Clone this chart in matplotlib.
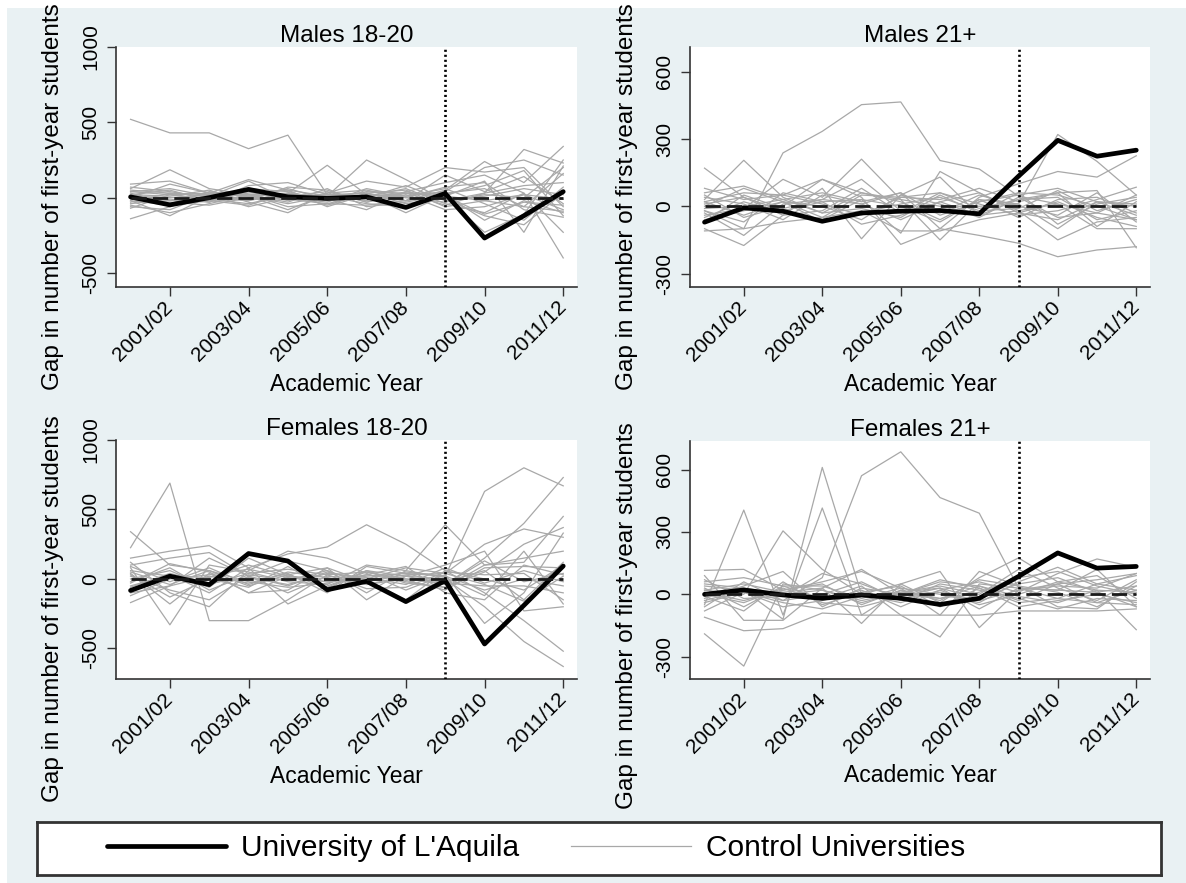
"""Gap in first-year enrolments: L'Aquila vs control universities (4 panels)."""

import matplotlib
matplotlib.use("Agg")
import matplotlib.pyplot as plt
from matplotlib.patches import Rectangle

plt.rcParams['font.family'] = ['Liberation Sans', 'DejaVu Sans']
plt.rcParams['axes.unicode_minus'] = False

# Academic years 2000/01 .. 2011/12
years = ["2000/01", "2001/02", "2002/03", "2003/04", "2004/05", "2005/06",
         "2006/07", "2007/08", "2008/09", "2009/10", "2010/11", "2011/12"]
tick_years = ["2001/02", "2003/04", "2005/06", "2007/08", "2009/10", "2011/12"]
quake_year = "2008/09"

panel_titles = ["Males 18-20", "Males 21+", "Females 18-20", "Females 21+"]

aquila_m1820 = [5, -48, 0, 55, 5, -5, 5, -65, 28, -268, -120, 40]
aquila_m21 = [-71, -7, -22, -67, -30, -22, -19, -34, 134, 294, 223, 250]
aquila_f1820 = [-83, 20, -41, 183, 129, -78, -17, -163, -12, -468, -190, 93]
aquila_f21 = [0, 21, -3, -19, -3, -19, -49, -19, 86, 199, 126, 134]

controls_m1820 = [
    [520, 430, 430, 325, 415, 20, 10, 30, 10, -20, -60, -90],
    [60, 185, 60, 20, 30, 215, 20, 10, 40, 200, 250, 150],
    [40, 20, 30, 120, 50, 10, 250, 120, -20, 30, 320, 230],
    [-140, -60, 20, 10, -40, 10, 30, -20, 50, 240, 100, 340],
    [90, 110, 30, 40, -20, 30, 110, 70, 200, 170, 200, -60],
    [-50, -100, -40, 20, -60, -40, -50, -20, 10, 110, -230, 210],
    [20, 50, -20, -50, 30, -20, 10, 60, -40, -100, 30, -400],
    [-20, -120, 10, -20, 70, 50, -30, 40, 100, 150, 30, -230],
    [50, 30, -30, 80, 100, 20, 30, -40, 0, -230, -110, 250],
    [30, -40, 40, 10, -80, 20, -20, 30, -50, 30, 80, 100],
    [-30, 30, 20, -60, 0, -30, 60, 10, 60, -40, -150, 70],
    [10, -20, -10, 30, 50, -60, 20, -100, 20, 80, 180, -120],
    [-60, -80, 20, 40, 10, 40, -30, 20, -80, -60, 20, -80],
    [70, 40, 0, -20, 30, 0, 40, 30, 30, 60, -60, 160],
    [0, 90, 30, 20, -30, 60, -60, -30, 20, -150, -20, -100],
    [-40, -10, -30, 60, 40, -20, 0, 80, -20, 10, 60, 20],
    [20, 10, 50, -30, -100, 30, 50, 0, 70, 100, -80, -130],
    [-20, -50, -20, 10, 20, 10, -40, -60, 10, -110, -30, -50],
    [40, 60, 10, 110, -10, -40, 20, 0, -30, 20, 0, 200],
    [-10, -30, -50, 0, 60, -10, -80, 40, -10, -120, -180, 30],
    [10, 0, 20, -10, 0, 20, 10, -20, 150, 40, 140, -40],
    [-70, 20, -10, -40, 20, -50, 30, 50, -60, -20, 20, -10],
]

controls_m21 = [
    [-20, -100, 238, 334, 453, 465, 204, 166, 45, 10, -30, -60],
    [30, 205, 40, -30, 60, 20, -60, 30, 10, 320, 200, 50],
    [170, 40, -20, 20, 30, -120, 155, 60, -30, -60, 20, -40],
    [-40, -10, 120, 40, 210, 30, -150, 20, 50, 80, 20, 10],
    [20, 60, 50, 120, 40, -170, -100, 40, 100, 155, 130, 225],
    [-100, -175, -40, 80, -145, 50, 130, -40, -20, -150, -70, -50],
    [60, 90, 30, 60, 20, 60, -100, -130, -165, -225, -195, -180],
    [-60, -20, 20, -50, 50, 40, 30, 80, 20, 60, 70, -185],
    [10, 40, -40, -20, 80, -30, 60, 10, -40, -20, 30, 85],
    [-20, -70, 60, 20, -80, -40, 20, -40, 30, 40, -60, -20],
    [40, 10, -60, 50, 10, 60, -40, 20, 60, -80, 10, 40],
    [-110, -100, -70, -50, -20, -110, -110, -60, -30, 20, -50, -90],
    [0, 80, 20, -70, -30, 10, 40, -20, -10, 70, -20, 30],
    [-30, -130, 10, 30, 120, -20, -30, 50, 0, -40, 60, -70],
    [80, 30, 50, 10, -40, 40, 60, -10, 30, 60, -90, 20],
    [-50, 20, -30, -60, 30, 0, -70, 30, -50, 30, 40, -30],
    [20, -40, 20, 0, -60, 50, 10, -50, 40, -50, -30, 50],
    [-70, 50, -10, 30, 10, -60, 20, 60, -20, 10, -100, -100],
    [50, -50, 0, 120, 60, 30, 0, 0, 10, -100, 20, 0],
    [-10, 0, 30, -30, -10, -50, 50, -30, 60, 50, 0, -60],
]

controls_f1820 = [
    [225, 690, -300, -300, -150, 30, 50, 0, -40, 150, 400, 730],
    [340, 100, 60, -50, 30, 80, -20, 50, 20, 630, 800, 670],
    [150, 200, 240, 80, 180, 230, 390, 250, 60, -100, -300, -520],
    [80, -330, 100, 50, -20, -40, 100, 60, 390, 100, 120, 450],
    [-170, -50, 150, 20, 130, 60, -40, 20, 0, -200, -450, -630],
    [100, 150, 190, 20, -100, 20, 0, 80, 40, 250, 360, 300],
    [120, -100, -200, 60, 200, 150, 40, -80, 30, -320, -100, 330],
    [-50, 30, -100, 80, -180, -50, 50, -20, -60, 50, 250, 370],
    [40, -180, 40, -100, -80, 80, -150, 20, 100, 200, -230, -200],
    [0, 60, -60, 150, 30, -60, 60, -30, -60, 100, 150, 200],
    [-100, -50, 20, -30, 40, -100, 90, 40, -30, -50, -50, -100],
    [60, 20, -40, 40, 70, 30, -70, -60, 50, 30, 40, -150],
    [-30, 110, 50, -100, 20, -20, 30, 90, -100, -150, 100, 30],
    [20, -80, -150, 20, -50, 50, -10, -150, 60, 0, -80, 100],
    [-120, 0, 30, 70, 10, -20, 20, 40, 20, -80, 0, -50],
    [90, -20, 80, -40, 50, 10, -40, 0, -20, 60, -150, 120],
    [-60, 40, -30, 10, -40, 40, 10, -40, 80, -30, 60, -20],
    [30, -130, 0, -60, 90, -70, 60, 20, -40, 130, -20, 40],
    [-20, 80, -80, 30, -10, 60, -100, 60, 10, -120, 200, -180],
    [50, -40, 60, -20, -60, -30, 30, -10, -80, 80, 90, 80],
    [-80, 20, 10, 100, 20, 0, -20, 30, 40, -40, -160, 20],
]

controls_f21 = [
    [40, 20, -30, 80, 570, 685, 465, 390, 30, 20, 10, 40],
    [-30, 20, -120, 610, 0, -40, 20, 60, 10, 100, 170, 130],
    [-50, 405, -100, 415, -100, 20, -20, 40, -30, 50, -40, 20],
    [20, 0, 305, 120, 0, 50, -40, 80, 175, 60, 20, -170],
    [-190, -345, 50, 20, -40, 10, 30, -20, 50, 80, 10, -60],
    [115, 120, 20, 60, 110, 30, -100, 110, 40, -60, -70, 60],
    [-110, -175, -165, -90, -100, -100, -100, -100, -80, -80, -80, -70],
    [90, -125, -125, 30, -140, 50, 110, -160, 20, 40, 30, 100],
    [60, 80, 40, -20, 40, -100, -205, 50, 30, 20, 120, -60],
    [-20, 40, 110, -60, 30, 0, 70, 30, -40, -20, 50, 20],
    [30, -60, 40, 40, -20, 30, 0, -40, 60, 130, 50, 90],
    [-60, 60, -30, 0, 60, -30, 50, 20, -20, -70, -20, -30],
    [10, -30, 20, 50, -50, 20, -30, 70, 40, 10, -60, 40],
    [-40, 10, -60, -30, 20, -60, 20, -50, 0, 60, 90, -20],
    [50, 30, 0, 20, -30, 10, 40, 0, 120, 30, -30, 70],
    [-10, -80, 60, -50, 10, 40, -60, 30, -60, -30, 0, -40],
    [70, -20, -10, 100, 50, -20, 10, -30, 20, 50, 70, 100],
    [-80, 10, -40, -70, -10, 0, 60, 40, -10, -40, 20, 10],
    [20, 50, 10, 30, 120, 0, -20, 10, 80, 110, 40, 0],
    [0, -40, 30, -40, -60, -10, 30, -70, 30, -20, -40, -50],
]

aquila_series = [aquila_m1820, aquila_m21, aquila_f1820, aquila_f21]
control_series = [controls_m1820, controls_m21, controls_f1820, controls_f21]
y_ticks = [[-500, 0, 500, 1000], [-300, 0, 300, 600],
           [-500, 0, 500, 1000], [-300, 0, 300, 600]]
y_limits = [(-593, 1000), (-360, 710), (-720, 1000), (-407, 737)]

W, H = 1186, 883
BG = '#E9F1F3'
GRAY = '#A8A8A8'

# axes boxes in pixels: left, top, right, bottom
boxes = [(116, 47, 577, 287), (690, 47, 1150, 287),
         (116, 440, 577, 679), (690, 441, 1150, 679)]
ylabel_y = [0.375, 0.377, 0.295, 0.265]

fig = plt.figure(figsize=(W / 100, H / 100), dpi=100)
fig.patch.set_facecolor('white')
fig.patches.append(Rectangle((7 / W, 0), 1, 1 - 8 / H, transform=fig.transFigure,
                             facecolor=BG, edgecolor='none', zorder=-10))

x = list(range(len(years)))
tick_pos = [years.index(t) for t in tick_years]
quake_x = years.index(quake_year)

handles = None
for k in range(4):
    l, t, r, b = boxes[k]
    ax = fig.add_axes([l / W, 1 - b / H, (r - l) / W, (b - t) / H])
    ax.set_facecolor('white')

    for ctrl in control_series[k]:
        gl, = ax.plot(x, ctrl, color=GRAY, lw=0.9, zorder=2)
    bl, = ax.plot(x, aquila_series[k], color='black', lw=3.4, zorder=3,
                  solid_joinstyle='round', solid_capstyle='round')
    ax.plot(x, [0] * len(x), color='#1a1a1a', lw=2.0, ls=(0, (5.5, 2.2)), zorder=4)
    ax.axvline(quake_x, color='black', lw=1.9, ls=(0, (0.8, 1.1)), zorder=5)
    handles = (bl, gl)

    ax.set_xlim(-0.37, 11.35)
    ax.set_ylim(*y_limits[k])
    ax.set_yticks(y_ticks[k])
    ax.set_xticks(tick_pos)
    ax.set_xticklabels(tick_years, rotation=45, ha='right', va='center',
                       rotation_mode='anchor')
    ax.tick_params(axis='both', direction='out', length=6.5, width=1,
                   labelsize=15, color='#333333')
    ax.tick_params(axis='x', pad=6)
    ax.tick_params(axis='y', labelrotation=90, pad=5)
    for lab in ax.get_yticklabels():
        lab.set_va('center')

    for s in ('top', 'right'):
        ax.spines[s].set_visible(False)
    for s in ('left', 'bottom'):
        ax.spines[s].set_linewidth(1.2)
        ax.spines[s].set_color('#333333')

    ax.set_title(panel_titles[k], fontsize=17.5, pad=2.5)
    ax.set_xlabel("Academic Year", fontsize=16.5)
    ax.xaxis.set_label_coords(0.5, -0.358)
    ax.xaxis.label.set_va('top')
    ax.set_ylabel("Gap in number of first-year students", fontsize=17.5)
    ax.yaxis.set_label_coords(-0.113, ylabel_y[k])

# legend box
lax = fig.add_axes([37 / W, 1 - 875 / H, (1161 - 37) / W, (875 - 822) / H])
lax.set_facecolor('white')
lax.set_xticks([])
lax.set_yticks([])
for s in lax.spines.values():
    s.set_linewidth(2)
    s.set_color('#333333')
lax.legend(handles, ["University of L'Aquila", "Control Universities"],
           ncol=2, loc='center left', bbox_to_anchor=(0.062, 0.5),
           frameon=False, fontsize=21.5, handlelength=4.0, handletextpad=0.5,
           columnspacing=1.75, borderpad=0, borderaxespad=0)

fig.savefig("out.png", dpi=100, facecolor=fig.get_facecolor())
